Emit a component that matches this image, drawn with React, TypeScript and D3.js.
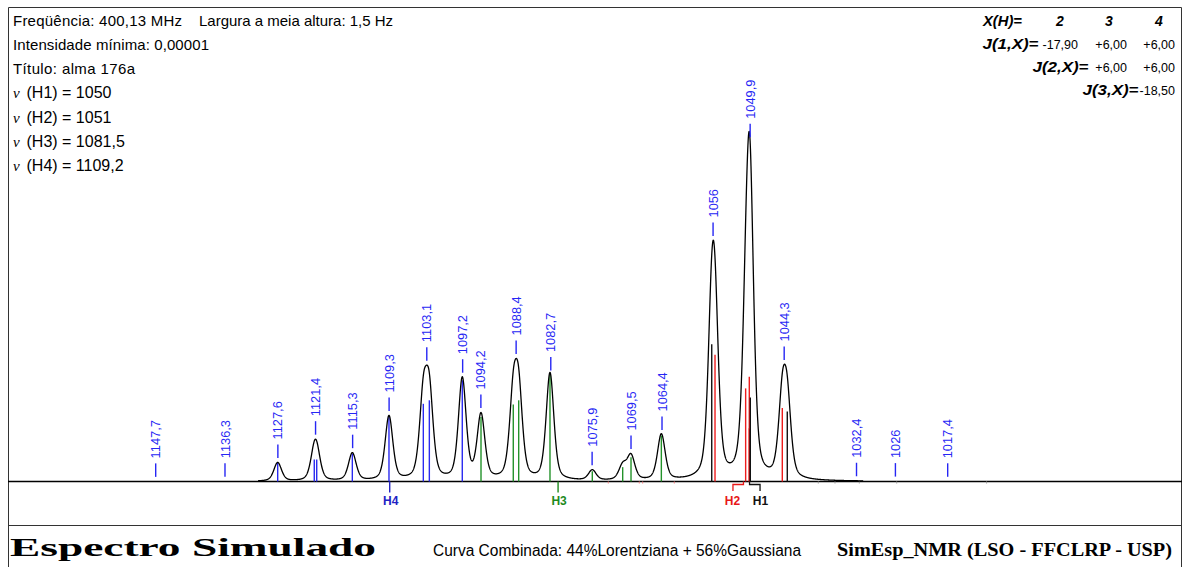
import React from 'react';
import * as d3 from 'd3';

const WIDTH = 1183;
const HEIGHT = 567;

// Simulation parameters shown in the header
const headerFrequency = 'Freqüência: 400,13 MHz';
const headerWidth = 'Largura a meia altura: 1,5 Hz';
const headerMinIntensity = 'Intensidade mínima: 0,00001';
const headerTitle = 'Título: alma 176a';

const HALF_HEIGHT_WIDTH_HZ = 1.5;
const LORENTZ_FRACTION = 0.44;

// Chemical shifts (Hz)
const nucleusNames = ['H1', 'H2', 'H3', 'H4'];
const nucleusShift = [1050, 1051, 1081.5, 1109.2];
const nucleusShiftText = ['1050', '1051', '1081,5', '1109,2'];

// Coupling table
const couplingColumns = ['2', '3', '4'];
const couplingRowLabels = ['J(1,X)=', 'J(2,X)=', 'J(3,X)='];
const couplingRowValues = [
  ['-17,90', '+6,00', '+6,00'],
  ['+6,00', '+6,00'],
  ['-18,50'],
];

// Transitions: position (Hz), relative intensity, nucleus index (0=H1 .. 3=H4)
const lineHz = [
  1127.63, 1121.61, 1121.21, 1115.35, 1109.32, 1103.67, 1102.68, 1097.26,
  1094.18, 1088.87, 1087.98, 1082.83, 1075.87, 1070.87, 1069.5, 1064.51,
  1055.68, 1050.64, 1050.04, 1050.04, 1044.61,
  1056.22, 1049.87, 1049.87, 1043.79,
];
const lineIntensity = [
  5.3, 6.3, 6.3, 7.9, 18.4, 22.2, 23.2, 28.9,
  18.4, 22.0, 23.2, 30.6, 2.9, 4.1, 6.9, 13.1,
  36.2, 26.6, 29.9, 15.2, 21.0,
  39.2, 24.0, 14.9, 20.0,
];
const lineNucleus = [
  3, 3, 3, 3, 3, 3, 3, 3,
  2, 2, 2, 2, 2, 2, 2, 2,
  1, 1, 1, 1, 1,
  0, 0, 0, 0,
];

// Very weak transitions (drawn as short marks under the baseline)
const weakLineHz = [1073.24, 1068.14, 1067.58, 1062.38, 1038.69, 1035.94, 1031.94, 1025.79, 1011.0];
const weakLineNucleus = [1, 1, 1, 1, 0, 0, 0, 0, 0];

// Labelled peak positions (Hz)
const peakLabelHz = [
  1147.7, 1136.3, 1127.6, 1121.4, 1115.3, 1109.3, 1103.1, 1097.2, 1094.2, 1088.4,
  1082.7, 1075.9, 1069.5, 1064.4, 1056, 1049.9, 1044.3, 1032.4, 1026, 1017.4,
];

// Range covered by the simulated curve (Hz)
const curveRange = [1130.85, 1031.3];

const footerTitle = 'Espectro Simulado';
const footerShape = 'Curva Combinada: 44%Lorentziana + 56%Gaussiana';
const footerProgram = 'SimEsp_NMR (LSO - FFCLRP - USP)';

const nucleusColor = ['#111111', '#ee1c1c', '#23922a', '#2a2af0'];
const markerColor = ['#111111', '#e81818', '#1d8a1d', '#2222c4'];
const LABEL_BLUE = '#2626f4';
const SANS = '"Liberation Sans", Arial, sans-serif';
const SERIF = '"Liberation Serif", "Times New Roman", serif';

const fmt = (v: number) => String(v).replace('.', ',');

export default function App() {
  const x = d3.scaleLinear().domain([1172.0, 978.85]).range([8, 1182]);
  const y = d3.scaleLinear().domain([0, 100]).range([481.5, 131.5]);
  const baseY = y(0);

  // mixed Lorentzian / Gaussian line shape, unit height
  const shape = (d: number) => {
    const u = (2 * d / HALF_HEIGHT_WIDTH_HZ) ** 2;
    return LORENTZ_FRACTION / (1 + u) + (1 - LORENTZ_FRACTION) * Math.exp(-Math.LN2 * u);
  };
  const spectrum = (hz: number) =>
    lineHz.reduce((s, h, i) => s + lineIntensity[i] * shape(hz - h), 0);

  const grid = d3.range(curveRange[0], curveRange[1], -0.03);
  grid.push(curveRange[1]);
  const curvePath = d3.line<number>().x((h) => x(h)).y((h) => y(spectrum(h)))(grid) || '';

  const drawOrder = [3, 2, 1, 0];
  const sticks = drawOrder.flatMap((n) =>
    lineHz.map((h, i) => ({ h, v: lineIntensity[i], n: lineNucleus[i] })).filter((s) => s.n === n)
  );

  const rowY = (i: number) => 26 + 24.15 * i;
  const jRowY = [26, 48.5, 71.8, 95];
  const jColRight = [1078, 1127, 1175];
  const jColCenter = [1060, 1109, 1159];
  const jLabelRight = [1038.5, 1088.5, 1138.5];

  return (
    <svg
      width={WIDTH}
      height={HEIGHT}
      style={{ position: 'absolute', left: 0, top: 0, background: '#fff' }}
    >
      <rect x={0} y={0} width={WIDTH} height={HEIGHT} fill="#fff" />
      {/* frame */}
      <path d={`M8.5,${HEIGHT + 2} V7.5 H1181.5 V${HEIGHT + 2}`} fill="none" stroke="#333" strokeWidth={1} />
      <line x1={8} x2={1182} y1={525.5} y2={525.5} stroke="#333" strokeWidth={1} />

      {/* header */}
      <g fontFamily={SANS} fontSize={15} fill="#000">
        <text x={13} y={rowY(0)} textLength={169} lengthAdjust="spacing">{headerFrequency}</text>
        <text x={199} y={rowY(0)} textLength={194} lengthAdjust="spacing">{headerWidth}</text>
        <text x={13} y={rowY(1)} textLength={196} lengthAdjust="spacing">{headerMinIntensity}</text>
        <text x={13} y={rowY(2)} textLength={122} lengthAdjust="spacing">{headerTitle}</text>
        {nucleusNames.map((name, i) => (
          <g key={name}>
            <text x={13} y={rowY(3 + i)} fontFamily={SERIF} fontStyle="italic" fontSize={15}>ν</text>
            <text x={26.5} y={rowY(3 + i)} fontSize={16}>{`(${name}) = ${nucleusShiftText[i]}`}</text>
          </g>
        ))}
      </g>

      {/* coupling table */}
      <g fontFamily={SANS} fill="#000">
        <text x={1022} y={jRowY[0]} textAnchor="end" fontSize={14} fontWeight="bold" fontStyle="italic" textLength={39} lengthAdjust="spacingAndGlyphs">X(H)=</text>
        {couplingColumns.map((c, i) => (
          <text key={c} x={jColCenter[i]} y={jRowY[0]} textAnchor="middle" fontSize={14} fontWeight="bold" fontStyle="italic">{c}</text>
        ))}
        {couplingRowLabels.map((lab, r) => (
          <g key={lab}>
            <text x={jLabelRight[r]} y={jRowY[r + 1]} textAnchor="end" fontSize={15} fontWeight="bold" fontStyle="italic" textLength={56} lengthAdjust="spacingAndGlyphs">{lab}</text>
            {couplingRowValues[r].map((v, k) => (
              <text key={k} x={jColRight[r + k]} y={jRowY[r + 1]} textAnchor="end" fontSize={12.5}>{v}</text>
            ))}
          </g>
        ))}
      </g>

      {/* baseline */}
      <line x1={8} x2={1182} y1={baseY} y2={baseY} stroke="#000" strokeWidth={1.5} />

      {/* weak transitions */}
      {weakLineHz.map((h, i) => (
        <line key={i} x1={x(h)} x2={x(h)} y1={baseY} y2={baseY + 2} stroke={weakLineNucleus[i] === 1 ? '#f08080' : '#999'} strokeWidth={1} />
      ))}

      {/* stick spectrum */}
      {sticks.map((s, i) => (
        <line key={i} x1={x(s.h)} x2={x(s.h)} y1={baseY} y2={y(s.v)} stroke={nucleusColor[s.n]} strokeWidth={1.4} />
      ))}

      {/* simulated curve */}
      <path d={curvePath} fill="none" stroke="#000" strokeWidth={1.3} strokeLinejoin="round" />

      {/* peak labels */}
      <g fontFamily={SANS} fontSize={12.8} fill={LABEL_BLUE}>
        {peakLabelHz.map((h) => {
          const top = y(spectrum(h));
          const px = x(h);
          return (
            <g key={h}>
              <line x1={px} x2={px} y1={top - 4.5} y2={top - 18} stroke={LABEL_BLUE} strokeWidth={1.4} />
              <text transform={`translate(${px},${top - 23}) rotate(-90)`} dy="0.36em">{fmt(h)}</text>
            </g>
          );
        })}
      </g>

      {/* chemical shift markers */}
      <g fontFamily={SANS} fontSize={12} fontWeight="bold">
        {nucleusNames.map((name, i) => {
          const px = x(nucleusShift[i]);
          const near = nucleusShift.findIndex((s, k) => k !== i && Math.abs(x(s) - px) < 14);
          if (near < 0) {
            return (
              <g key={name}>
                <line x1={px} x2={px} y1={baseY} y2={baseY + 11} stroke={markerColor[i]} strokeWidth={1.4} />
                <text x={px + 1} y={505} textAnchor="middle" fill={markerColor[i]}>{name}</text>
              </g>
            );
          }
          const dir = px < x(nucleusShift[near]) ? -1 : 1;
          const ex = px + dir * 10.5;
          return (
            <g key={name}>
              <path d={`M${px},${baseY} V${baseY + 3} H${ex} V${baseY + 9.5}`} fill="none" stroke={markerColor[i]} strokeWidth={1.3} />
              <text x={ex + dir * 0.5} y={505} textAnchor="middle" fill={markerColor[i]}>{name}</text>
            </g>
          );
        })}
      </g>

      {/* footer */}
      <text x={10} y={556} fontFamily={SERIF} fontWeight="bold" fontSize={25} textLength={366} lengthAdjust="spacingAndGlyphs">{footerTitle}</text>
      <text x={433} y={556} fontFamily={SANS} fontSize={16} textLength={368} lengthAdjust="spacingAndGlyphs">{footerShape}</text>
      <text x={837} y={556} fontFamily={SERIF} fontWeight="bold" fontSize={19} textLength={335} lengthAdjust="spacingAndGlyphs">{footerProgram}</text>
    </svg>
  );
}
